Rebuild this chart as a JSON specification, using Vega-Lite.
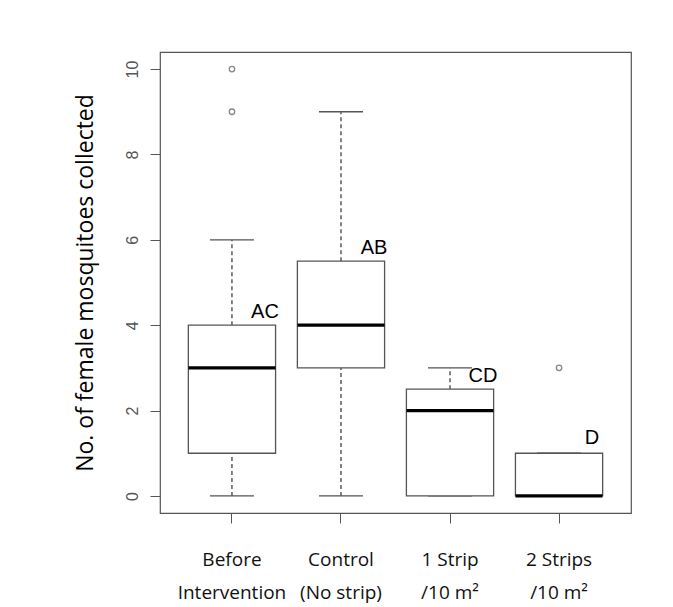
{
  "$schema": "https://vega.github.io/schema/vega-lite/v6.json",
  "autosize": {"type": "none"},
  "width": 471,
  "height": 461,
  "padding": {"left": 160, "top": 52, "right": 42, "bottom": 94},
  "background": "#ffffff",
  "config": {
    "view": {"stroke": "#555555", "strokeWidth": 1.2},
    "axis": {"grid": false, "domain": false, "tickColor": "#555555", "tickSize": 10},
    "tick": {"opacity": 1}
  },
  "datasets": {
    "boxes": [
      {"group": "Before Intervention", "lo": 0, "q1": 1, "med": 3, "q3": 4, "hi": 6, "letter": "AC", "letterY": 4.3},
      {"group": "Control (No strip)", "lo": 0, "q1": 3, "med": 4, "q3": 5.5, "hi": 9, "letter": "AB", "letterY": 5.8},
      {"group": "1 Strip /10 m²", "lo": 0, "q1": 0, "med": 2, "q3": 2.5, "hi": 3, "letter": "CD", "letterY": 2.8},
      {"group": "2 Strips /10 m²", "lo": 0, "q1": 0, "med": 0, "q3": 1, "hi": 1, "letter": "D", "letterY": 1.35}
    ],
    "outliers": [
      {"group": "Before Intervention", "value": 10},
      {"group": "Before Intervention", "value": 9},
      {"group": "2 Strips /10 m²", "value": 3}
    ]
  },
  "encoding": {
    "x": {
      "field": "group",
      "type": "nominal",
      "sort": ["Before Intervention", "Control (No strip)", "1 Strip /10 m²", "2 Strips /10 m²"],
      "scale": {"type": "band", "paddingInner": 0.2, "paddingOuter": 0.26},
      "axis": {
        "title": null,
        "labelAngle": 0,
        "labelFont": "Open Sans",
        "labelFontSize": 19,
        "labelColor": "#111111",
        "labelPadding": 27,
        "labelLineHeight": 33,
        "labelBaseline": "top",
        "labelExpr": "{'Before Intervention': ['Before', 'Intervention'], 'Control (No strip)': ['Control', '(No strip)'], '1 Strip /10 m²': ['1 Strip', '/10 m²'], '2 Strips /10 m²': ['2 Strips', '/10 m²']}[datum.label]"
      }
    }
  },
  "layer": [
    {
      "data": {"name": "boxes"},
      "mark": {"type": "rule", "color": "#333333", "strokeWidth": 1.2, "strokeDash": [4, 3]},
      "encoding": {
        "y": {
          "field": "lo",
          "type": "quantitative",
          "scale": {"domain": [-0.4, 10.4], "nice": false, "zero": false},
          "axis": {
            "values": [0, 2, 4, 6, 8, 10],
            "labelAngle": 270,
            "labelAlign": "center",
            "labelBaseline": "bottom",
            "labelPadding": 10,
            "labelFont": "Liberation Sans",
            "labelFontSize": 16,
            "labelColor": "#555555",
            "title": "No. of female mosquitoes collected",
            "titleFont": "Open Sans",
            "titleFontSize": 23,
            "titleFontWeight": "normal",
            "titleColor": "#000000",
            "titlePadding": 27
          }
        },
        "y2": {"field": "q1"}
      }
    },
    {
      "data": {"name": "boxes"},
      "mark": {"type": "rule", "color": "#333333", "strokeWidth": 1.2, "strokeDash": [4, 3]},
      "encoding": {
        "y": {"field": "q3", "type": "quantitative"},
        "y2": {"field": "hi"}
      }
    },
    {
      "data": {"name": "boxes"},
      "mark": {"type": "tick", "color": "#555555", "size": 44, "thickness": 1.3, "orient": "horizontal"},
      "encoding": {"y": {"field": "lo", "type": "quantitative"}}
    },
    {
      "data": {"name": "boxes"},
      "mark": {"type": "tick", "color": "#555555", "size": 44, "thickness": 1.3, "orient": "horizontal"},
      "encoding": {"y": {"field": "hi", "type": "quantitative"}}
    },
    {
      "data": {"name": "boxes"},
      "mark": {"type": "bar", "fill": "#ffffff", "stroke": "#555555", "strokeWidth": 1.3},
      "encoding": {
        "y": {"field": "q1", "type": "quantitative"},
        "y2": {"field": "q3"}
      }
    },
    {
      "data": {"name": "boxes"},
      "mark": {"type": "tick", "color": "#000000", "size": 87, "thickness": 3.2, "orient": "horizontal"},
      "encoding": {"y": {"field": "med", "type": "quantitative"}}
    },
    {
      "data": {"name": "outliers"},
      "mark": {"type": "point", "shape": "circle", "filled": false, "size": 30, "stroke": "#555555", "strokeWidth": 1.3},
      "encoding": {"y": {"field": "value", "type": "quantitative"}}
    },
    {
      "data": {"name": "boxes"},
      "mark": {"type": "text", "font": "Liberation Sans", "fontSize": 20, "color": "#000000", "align": "center", "baseline": "middle", "dx": 33},
      "encoding": {
        "y": {"field": "letterY", "type": "quantitative"},
        "text": {"field": "letter"}
      }
    }
  ]
}
